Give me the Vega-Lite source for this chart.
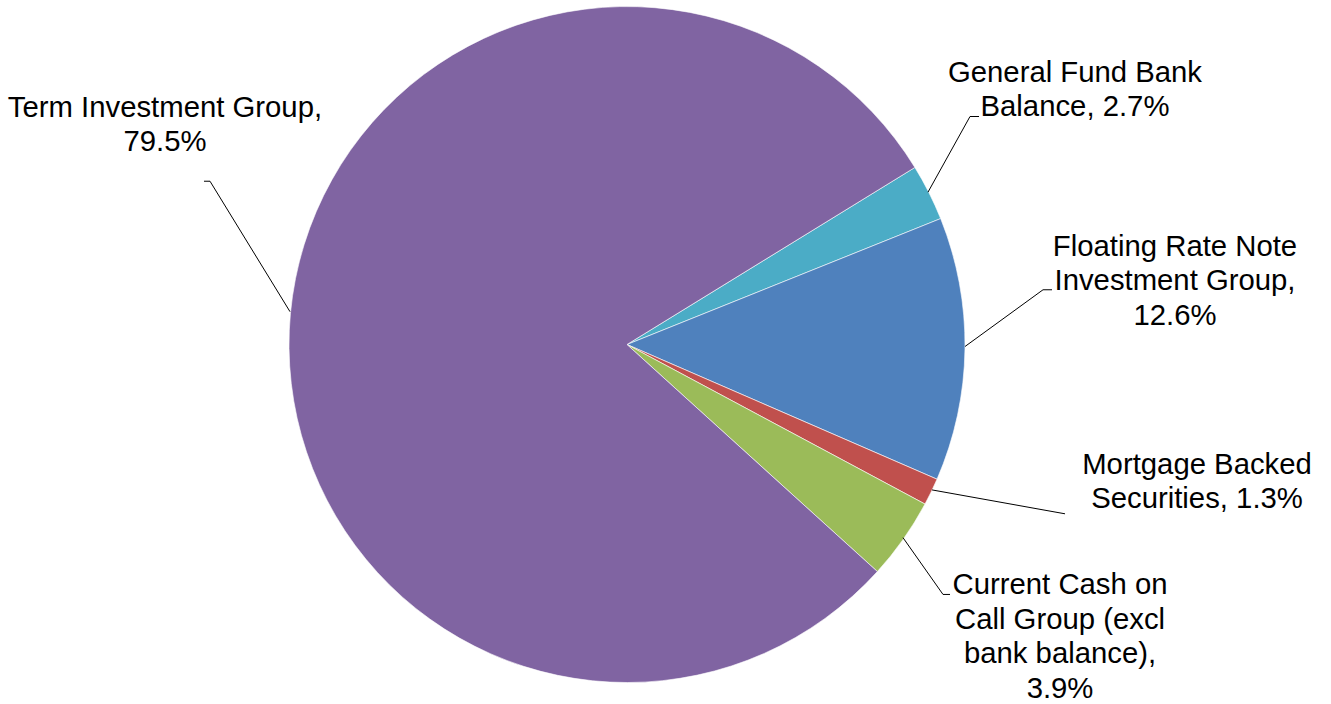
{
  "$schema": "https://vega.github.io/schema/vega-lite/v6.json",
  "width": 1331,
  "height": 704,
  "autosize": {"type": "fit", "contains": "padding"},
  "padding": 0,
  "background": "white",
  "config": {"view": {"stroke": null}},
  "datasets": {
    "slices": [
      {"category": "General Fund Bank Balance", "share": 2.7, "rank": 1},
      {"category": "Floating Rate Note Investment Group", "share": 12.6, "rank": 2},
      {"category": "Mortgage Backed Securities", "share": 1.3, "rank": 3},
      {"category": "Current Cash on Call Group (excl bank balance)", "share": 3.9, "rank": 4},
      {"category": "Term Investment Group", "share": 79.5, "rank": 5}
    ],
    "leaders": [
      {"category": "Term Investment Group", "seq": 1, "u": -1.2515, "v": 0.4852},
      {"category": "Term Investment Group", "seq": 2, "u": -1.2337, "v": 0.4852},
      {"category": "Term Investment Group", "seq": 3, "u": -0.997, "v": 0.0976},
      {"category": "General Fund Bank Balance", "seq": 1, "u": 1.0414, "v": 0.6775},
      {"category": "General Fund Bank Balance", "seq": 2, "u": 1.0148, "v": 0.6775},
      {"category": "General Fund Bank Balance", "seq": 3, "u": 0.8905, "v": 0.4527},
      {"category": "Floating Rate Note Investment Group", "seq": 1, "u": 1.2574, "v": 0.1627},
      {"category": "Floating Rate Note Investment Group", "seq": 2, "u": 1.2308, "v": 0.1627},
      {"category": "Floating Rate Note Investment Group", "seq": 3, "u": 1.0, "v": -0.0059},
      {"category": "Mortgage Backed Securities", "seq": 1, "u": 1.2959, "v": -0.503},
      {"category": "Mortgage Backed Securities", "seq": 2, "u": 0.9024, "v": -0.432},
      {"category": "Current Cash on Call Group (excl bank balance)", "seq": 1, "u": 0.9556, "v": -0.7426},
      {"category": "Current Cash on Call Group (excl bank balance)", "seq": 2, "u": 0.9349, "v": -0.7426},
      {"category": "Current Cash on Call Group (excl bank balance)", "seq": 3, "u": 0.8166, "v": -0.574}
    ],
    "labels": [
      {"label": "Term Investment Group,\n79.5%", "u": -1.3669, "v": 0.6775},
      {"label": "General Fund Bank\nBalance, 2.7%", "u": 1.3254, "v": 0.7811},
      {"label": "Floating Rate Note\nInvestment Group,\n12.6%", "u": 1.6213, "v": 0.2633},
      {"label": "Mortgage Backed\nSecurities, 1.3%", "u": 1.6864, "v": -0.3846},
      {"label": "Current Cash on\nCall Group (excl\nbank balance),\n3.9%", "u": 1.2811, "v": -0.7426}
    ]
  },
  "layer": [
    {
      "data": {"name": "slices"},
      "mark": {"type": "arc", "outerRadius": 338, "stroke": "white", "strokeWidth": 0.6},
      "encoding": {
        "x": {"datum": 0, "type": "quantitative", "scale": {"domain": [-1.855, 2.0828], "nice": false, "zero": false}, "axis": null},
        "y": {"datum": 0, "type": "quantitative", "scale": {"domain": [-1.0592, 1.0237], "nice": false, "zero": false}, "axis": null},
        "theta": {"field": "share", "type": "quantitative", "stack": true, "scale": {"range": [1.0193, 7.3025]}},
        "color": {
          "field": "category",
          "type": "nominal",
          "scale": {
            "domain": ["General Fund Bank Balance", "Floating Rate Note Investment Group", "Mortgage Backed Securities", "Current Cash on Call Group (excl bank balance)", "Term Investment Group"],
            "range": ["#4BACC6", "#4F81BD", "#C0504D", "#9BBB59", "#8064A2"]
          },
          "legend": null
        },
        "order": {"field": "rank", "type": "quantitative"}
      }
    },
    {
      "data": {"name": "leaders"},
      "mark": {"type": "line", "color": "black", "strokeWidth": 1},
      "encoding": {
        "x": {"field": "u", "type": "quantitative", "axis": null},
        "y": {"field": "v", "type": "quantitative", "axis": null},
        "detail": {"field": "category", "type": "nominal"},
        "order": {"field": "seq", "type": "quantitative"}
      }
    },
    {
      "data": {"name": "labels"},
      "mark": {"type": "text", "font": "Liberation Sans", "fontSize": 29.3, "align": "center", "baseline": "alphabetic", "lineBreak": "\n", "lineHeight": 34.5, "color": "black"},
      "encoding": {
        "x": {"field": "u", "type": "quantitative", "axis": null},
        "y": {"field": "v", "type": "quantitative", "axis": null},
        "text": {"field": "label", "type": "nominal"}
      }
    }
  ]
}
